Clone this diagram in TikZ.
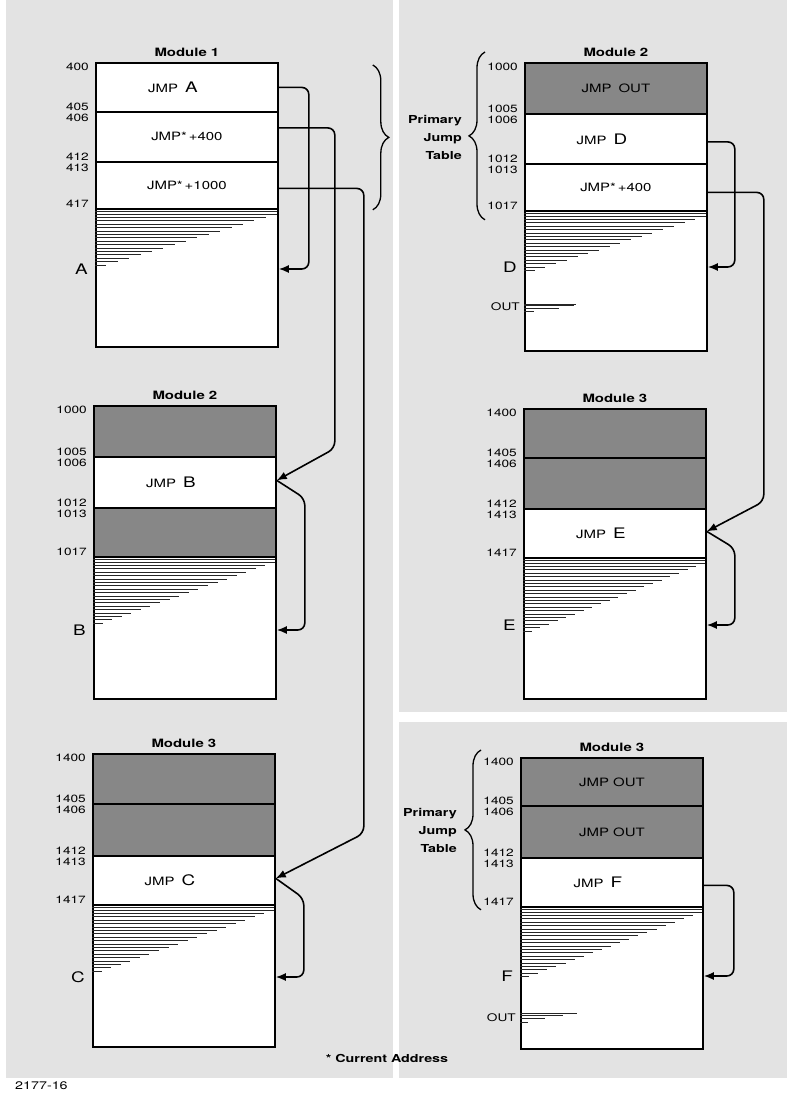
\documentclass[tikz,border=0pt]{standalone}
\usepackage{fontspec}
\setmainfont{TeX Gyre Heros}[FakeStretch=1.3]
\usetikzlibrary{positioning, arrows.meta, decorations.pathreplacing}

\newcommand\biglet[1]{{\fontsize{14.5}{14.5}\selectfont #1}}
\newcommand\jmpto[1]{JMP\hspace{7pt}\biglet{#1}\hspace*{28pt}}

\begin{document}
\begin{tikzpicture}[
    x=1pt, y=-1pt,
    font=\fontsize{11.5}{13}\selectfont,
    >={Latex[length=10pt,width=8pt]},
    cell/.style={
        draw,
        line width=1.8pt,
        fill=white,
        anchor=north west,
        minimum width=182pt,
        inner sep=0pt
    },
    dark/.style={cell, fill=black!47},
    modname/.style={font=\bfseries\fontsize{11.5}{13}\selectfont, inner sep=0pt},
    addr/.style={font=\fontsize{10.5}{10.5}\selectfont, anchor=east, xshift=-6pt, inner sep=0pt},
    tag/.style={font=\fontsize{14.5}{14.5}\selectfont, anchor=east, xshift=-7pt, inner sep=0pt},
    outtag/.style={font=\fontsize{10.5}{10.5}\selectfont, anchor=east, xshift=-4pt, inner sep=0pt},
    jtable/.style={font=\bfseries\fontsize{11}{18}\selectfont, align=right, anchor=east, inner sep=0pt},
    hatch/.style={line width=0.85pt, black!85},
    jump/.style={->, line width=1.6pt, rounded corners=7pt},
    brace/.style={decorate, decoration={brace, amplitude=16pt}, line width=1.3pt}
]

% page background
\fill[white] (0,0) rectangle (787,1094);
\fill[black!11] (6,0) rectangle (393,1078);
\fill[black!11] (399,0) rectangle (787,712);
\fill[black!11] (399,722) rectangle (787,1078);
\useasboundingbox (0,0) rectangle (787,1094);

% Module 1
\node[cell, minimum height=49pt] (a1) at (95,62) {\jmpto{A}};
\node[cell, minimum height=50pt] (a2) at (95,111) {JMP*\,+400};
\node[cell, minimum height=47pt] (a3) at (95,161) {JMP*\,+1000};
\node[cell, minimum height=138pt] (a4) at (95,208) {};
\node[modname, above=5pt of a1] (ta) {Module 1};

% Module 2 (left)
\node[dark, minimum height=51pt] (b1) at (93,405) {};
\node[cell, minimum height=51pt] (b2) at (93,456) {\jmpto{B}};
\node[dark, minimum height=49pt] (b3) at (93,507) {};
\node[cell, minimum height=142pt] (b4) at (93,556) {};
\node[modname, above=5pt of b1] (tb) {Module 2};

% Module 3 (left)
\node[dark, minimum height=50pt] (c1) at (92,753) {};
\node[dark, minimum height=52pt] (c2) at (92,803) {};
\node[cell, minimum height=49pt] (c3) at (92,855) {\jmpto{C}};
\node[cell, minimum height=142pt] (c4) at (92,904) {};
\node[modname, above=5pt of c1] (tc) {Module 3};

% Module 2 (right)
\node[dark, minimum height=51pt] (d1) at (524,62) {JMP\hspace{7pt}OUT};
\node[cell, minimum height=50pt] (d2) at (524,113) {\jmpto{D}};
\node[cell, minimum height=47pt] (d3) at (524,163) {JMP*\,+400};
\node[cell, minimum height=140pt] (d4) at (524,210) {};
\node[modname, above=5pt of d1] (td) {Module 2};

% Module 3 (right)
\node[dark, minimum height=49pt] (e1) at (523,408) {};
\node[dark, minimum height=51pt] (e2) at (523,457) {};
\node[cell, minimum height=49pt] (e3) at (523,508) {\jmpto{E}};
\node[cell, minimum height=141pt] (e4) at (523,557) {};
\node[modname, above=5pt of e1] (te) {Module 3};

% Module 3 (bottom right)
\node[dark, minimum height=48pt] (f1) at (520,757) {JMP OUT};
\node[dark, minimum height=52pt] (f2) at (520,805) {JMP OUT};
\node[cell, minimum height=49pt] (f3) at (520,857) {\jmpto{F}};
\node[cell, minimum height=142pt] (f4) at (520,906) {};
\node[modname, above=5pt of f1] (tf) {Module 3};

% addresses
\foreach \m/\p in {a/4, b/10, c/14, d/10, e/14, f/14} {
    \node[addr] (\m-00) at ([yshift=-5pt]\m1.north west) {\p00};
    \node[addr] (\m-05) at ([yshift=6pt]\m1.south west) {\p05};
    \node[addr] (\m-06) at ([yshift=-7pt]\m2.north west) {\p06};
    \node[addr] (\m-12) at ([yshift=6pt]\m2.south west) {\p12};
    \node[addr] (\m-13) at ([yshift=-7pt]\m3.north west) {\p13};
    \node[addr] (\m-17) at ([yshift=6pt]\m3.south west) {\p17};
}

% filled part of each module
\foreach \m/\n in {a/14, b/17, c/17, d/15, e/19, f/18} {
    \draw[hatch] ([yshift=-3.5pt]\m4.north west) -- ++(182,0);
    \draw[hatch] ([yshift=-6.5pt]\m4.north west) -- ++(182,0);
    \foreach \i in {0,...,\n}
        \draw[hatch] ([yshift={-9.5pt-3.4pt*\i}]\m4.north west) -- ++({182*(1-(\i+1)/(\n+2))},0);
}

% jump targets
\coordinate (tA) at ([yshift=-61pt]a4.north east);
\coordinate (tB) at ([yshift=-74pt]b4.north east);
\coordinate (tC) at ([yshift=-73pt]c4.north east);
\coordinate (tD) at ([yshift=-57pt]d4.north east);
\coordinate (tE) at ([yshift=-68pt]e4.north east);
\coordinate (tF) at ([yshift=-70pt]f4.north east);
\coordinate (inB) at ([yshift=2pt]b2.east);
\coordinate (inC) at ([yshift=2pt]c3.east);
\coordinate (inE) at ([yshift=2pt]e3.east);

\node[tag] (lA) at (a4.west |- tA) {A};
\node[tag] (lB) at (b4.west |- tB) {B};
\node[tag] (lC) at (c4.west |- tC) {C};
\node[tag] (lD) at (d4.west |- tD) {D};
\node[tag] (lE) at (e4.west |- tE) {E};
\node[tag] (lF) at (f4.west |- tF) {F};

% OUT entries
\node[outtag] (outd) at ([yshift=-97pt]d4.north west) {OUT};
\foreach \dy/\len in {94/52, 95.5/50, 98/35, 101.5/10}
    \draw[hatch] ([yshift=-\dy*1pt]d4.north west) -- ++(\len,0);
\node[outtag] (outf) at ([yshift=-112pt]f4.north west) {OUT};
\foreach \dy/\len in {107/57, 109.5/43, 112.5/25, 116/8}
    \draw[hatch] ([yshift=-\dy*1pt]f4.north west) -- ++(\len,0);

% primary jump tables
\draw[brace] ([shift={(94pt,-3pt)}]a1.north east) -- ([xshift=94pt]a3.south east);
\draw[brace] ([shift={(-39pt,-8pt)}]d3.south west) -- ([shift={(-39pt,10pt)}]d1.north west);
\draw[brace] ([shift={(-39pt,-2pt)}]f3.south west) -- ([shift={(-39pt,7pt)}]f1.north west);
\node[jtable] (pjt1) at (462,137) {Primary\\Jump\\Table};
\node[jtable] (pjt2) at (457,830) {Primary\\Jump\\Table};

% jumps
\draw[jump] (a1.east) -| ([xshift=30pt]tA) -- (tA);
\draw[jump] ([yshift=9pt]a2.east) -| ([shift={(58pt,32pt)}]inB) -- (inB);
\draw[jump] ([yshift=-3pt]a3.east) -| ([shift={(88pt,45pt)}]inC) -- (inC);
\draw[jump] (inB) -- ([shift={(28pt,-18pt)}]inB) |- (tB);
\draw[jump] (inC) -- ([shift={(28pt,-20pt)}]inC) |- (tC);
\draw[jump] ([yshift=-3pt]d2.east) -| ([xshift=27pt]tD) -- (tD);
\draw[jump] ([yshift=-5pt]d3.east) -| ([shift={(57pt,30pt)}]inE) -- (inE);
\draw[jump] (inE) -- ([shift={(28pt,-17pt)}]inE) |- (tE);
\draw[jump] ([yshift=-3pt]f3.east) -| ([xshift=30pt]tF) -- (tF);

\node[font=\bfseries\fontsize{11}{13}\selectfont] (note) at (387,1058) {* Current Address};
\node[font=\fontsize{11}{13}\selectfont, anchor=west, inner sep=0pt] (fig) at (15,1086) {2177-16};

\end{tikzpicture}
\end{document}
